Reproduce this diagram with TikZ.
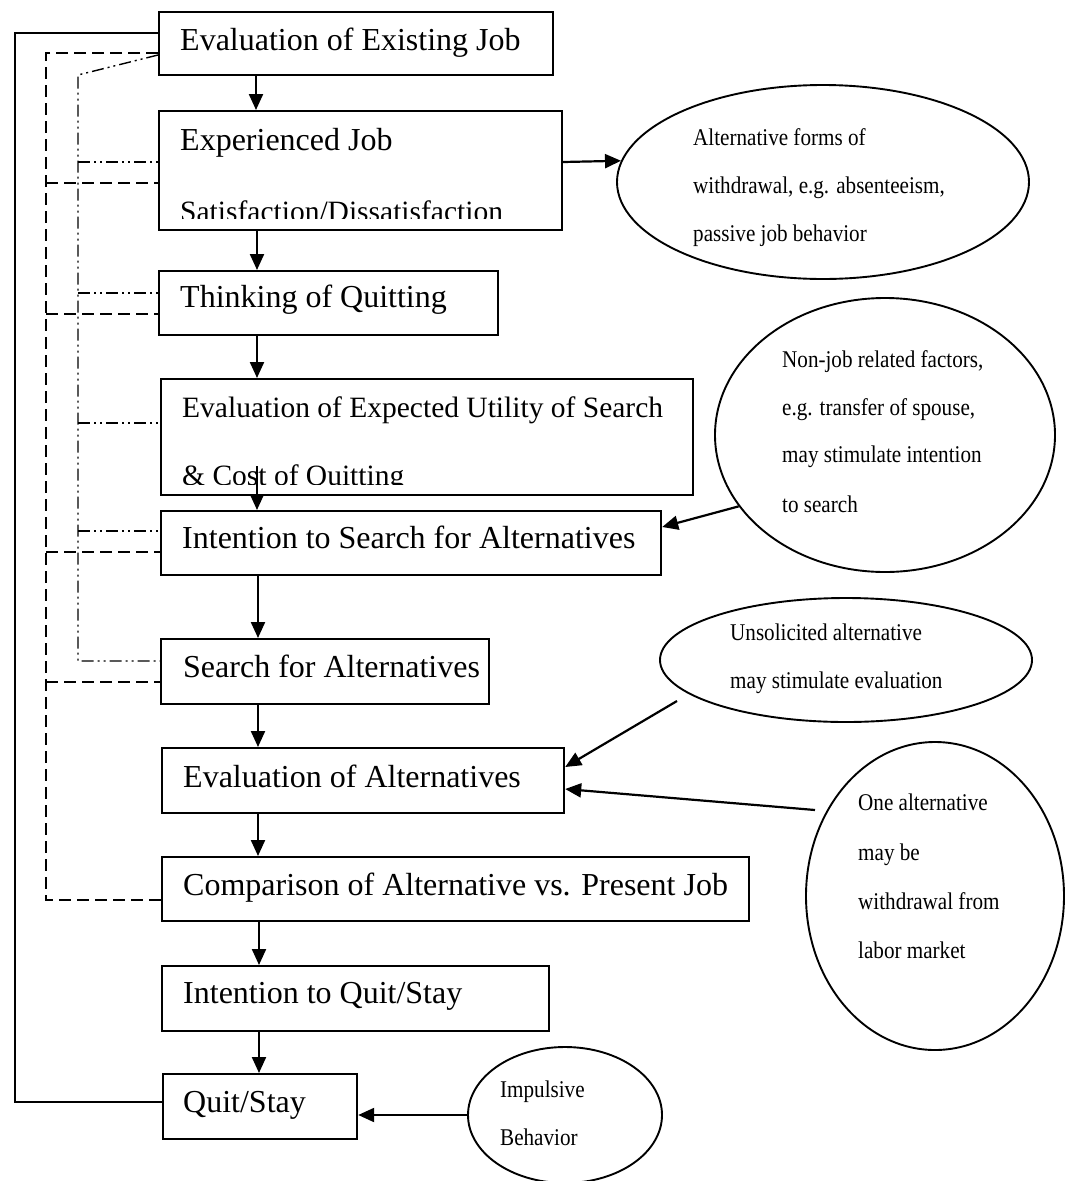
\documentclass[tikz,border=0pt]{standalone}
\usepackage{fontspec}
\setmainfont{Liberation Serif}
\newfontfamily\ellfont[FakeStretch=0.88]{Liberation Serif}
\usetikzlibrary{arrows.meta,shapes.geometric}
\begin{document}
\begin{tikzpicture}[x=1pt,y=-1pt,
  box/.style={draw,line width=2.2pt,inner sep=0pt,anchor=north west},
  btxt/.style={inner sep=0pt,anchor=base west,font=\fontsize{32}{32}\selectfont},
  stxt/.style={inner sep=0pt,anchor=base west,font=\fontsize{29.5}{29.5}\selectfont},
  etxt/.style={inner sep=0pt,anchor=base west,font=\ellfont\fontsize{24}{24}\selectfont},
  ell/.style={draw,ellipse,line width=1.9pt,inner sep=0pt},
  arr/.style={line width=2.2pt,-{Triangle[length=16pt,width=14pt]}},
  fb/.style={line width=1.8pt},
  dsh/.style={line width=1.7pt,dash pattern=on 12pt off 6pt},
  ddot/.style={line width=1.4pt,dash pattern=on 12pt off 4pt on 2pt off 4pt on 2pt off 4pt}]
\fill[white] (0,0) rectangle (1075,1181);
\useasboundingbox (0,0) rectangle (1075,1181);

% boxes
\node[box,minimum width=394pt,minimum height=63pt]  (b1)  at (158,11)  {};
\node[box,minimum width=403pt,minimum height=119pt] (b2)  at (158,110) {};
\node[box,minimum width=339pt,minimum height=64pt]  (b3)  at (158,270) {};
\node[box,minimum width=532pt,minimum height=116pt] (b4)  at (160,378) {};
\node[box,minimum width=500pt,minimum height=64pt]  (b5)  at (160,510) {};
\node[box,minimum width=328pt,minimum height=65pt]  (b6)  at (160,638) {};
\node[box,minimum width=402pt,minimum height=65pt]  (b7)  at (161,747) {};
\node[box,minimum width=587pt,minimum height=64pt]  (b8)  at (161,856) {};
\node[box,minimum width=387pt,minimum height=65pt]  (b9)  at (161,965) {};
\node[box,minimum width=194pt,minimum height=65pt]  (b10) at (162,1073) {};

% box texts
\node[btxt] (t1) at (180,50) {Evaluation of Existing Job};
\begin{scope}
  \clip (158,110) rectangle (561,218);
  \node[btxt] (t2a) at (180,150) {Experienced Job};
  \node[stxt] (t2b) at (180,221) {Satisfaction/Dissatisfaction};
\end{scope}
\node[btxt] (t3) at (180,307) {Thinking of Quitting};
\begin{scope}
  \clip (160,378) rectangle (692,484);
  \node[stxt] (t4a) at (182,417) {Evaluation of Expected Utility of Search};
  \node[stxt] (t4b) at (182,485.5) {\& Cost of Quitting};
\end{scope}
\node[btxt] (t5)  at (182,548)  {Intention to Search for Alternatives};
\node[btxt] (t6)  at (183,677)  {Search for Alternatives};
\node[btxt] (t7)  at (183,787)  {Evaluation of Alternatives};
\node[btxt] (t8)  at (183,895)  {Comparison of Alternative vs. Present Job};
\node[btxt] (t9)  at (183,1003) {Intention to Quit/Stay};
\node[btxt] (t10) at (183,1112) {Quit/Stay};

% ellipses
\node[ell,minimum width=412pt,minimum height=194pt] (e1) at (823,182) {};
\node[ell,minimum width=340pt,minimum height=274pt] (e2) at (885,435) {};
\node[ell,minimum width=372pt,minimum height=124pt] (e3) at (846,660) {};
\node[ell,minimum width=258pt,minimum height=308pt] (e4) at (935,896) {};
\node[ell,minimum width=194pt,minimum height=136pt] (e5) at (565,1115) {};

% ellipse texts
\node[etxt] (x1a) at (693,145) {Alternative forms of};
\node[etxt] (x1b) at (693,193) {withdrawal, e.g. absenteeism,};
\node[etxt] (x1c) at (693,241) {passive job behavior};
\node[etxt] (x2a) at (782,367) {Non-job related factors,};
\node[etxt] (x2b) at (782,415) {e.g. transfer of spouse,};
\node[etxt] (x2c) at (782,462) {may stimulate intention};
\node[etxt] (x2d) at (782,512) {to search};
\node[etxt] (x3a) at (730,640) {Unsolicited alternative};
\node[etxt] (x3b) at (730,688) {may stimulate evaluation};
\node[etxt] (x4a) at (858,810) {One alternative};
\node[etxt] (x4b) at (858,860) {may be};
\node[etxt] (x4c) at (858,909) {withdrawal from};
\node[etxt] (x4d) at (858,958) {labor market};
\node[etxt] (x5a) at (500,1097) {Impulsive};
\node[etxt] (x5b) at (500,1145) {Behavior};

% vertical flow arrows
\draw[arr] (b1.south -| 256,0) -- (b2.north -| 256,0);
\draw[arr] (b2.south -| 257,0) -- (b3.north -| 257,0);
\draw[arr] (b3.south -| 257,0) -- (b4.north -| 257,0);
\coordinate (c4) at (257,466);
\draw[arr] (c4) -- (b5.north -| 257,0);
\draw[arr] (b5.south -| 258,0) -- (b6.north -| 258,0);
\draw[arr] (b6.south -| 258,0) -- (b7.north -| 258,0);
\draw[arr] (b7.south -| 258,0) -- (b8.north -| 258,0);
\draw[arr] (b8.south -| 259,0) -- (b9.north -| 259,0);
\draw[arr] (b9.south -| 259,0) -- (b10.north -| 259,0);

% side arrows
\draw[arr] (b2.east |- 0,162) -- (e1.174);
\draw[arr] (e2.206) -- (b5.east |- 0,527);
\coordinate (s3) at (677,701);
\draw[arr] (s3) -- (b7.east |- 0,767);
\coordinate (s4) at (815,810);
\draw[arr] (s4) -- (b7.east |- 0,789);
\draw[arr] (e5.west) -- (e5.west -| b10.east);

% solid feedback loop
\draw[fb] (b1.west |- 0,33) -- (15,33) -- (15,1102) -- (b10.west |- 0,1102);

% dashed feedback lines
\draw[dsh] (b1.west |- 0,53) -- (46,53) -- (46,900) -- (b8.west |- 0,900);
\draw[dsh] (46,183) -- (b2.west |- 0,183);
\draw[dsh] (46,314) -- (b3.west |- 0,314);
\draw[dsh] (46,552) -- (b5.west |- 0,552);
\draw[dsh] (46,682) -- (b6.west |- 0,682);

% dash-dot-dot feedback lines
\draw[ddot] (b1.west |- 0,55) -- (78,75) -- (78,661) -- (b6.west |- 0,661);
\draw[ddot] (78,162) -- (b2.west |- 0,162);
\draw[ddot] (78,293) -- (b3.west |- 0,293);
\draw[ddot] (78,423) -- (b4.west |- 0,423);
\draw[ddot] (78,531) -- (b5.west |- 0,531);
\end{tikzpicture}
\end{document}
